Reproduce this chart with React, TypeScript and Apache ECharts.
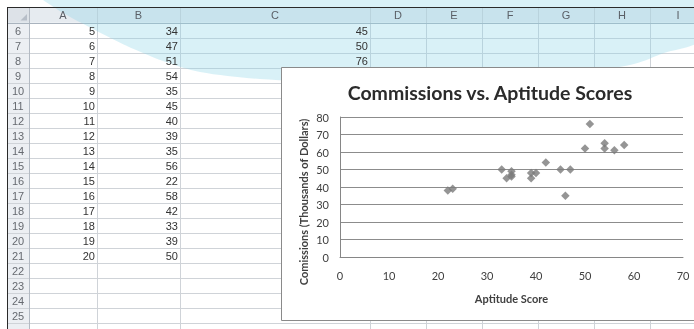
import { useEffect, useRef } from "react";
import * as echarts from "echarts";

// ---- data ----
const columnLetters = ["A", "B", "C", "D", "E", "F", "G", "H", "I"];
const firstRow = 6;
const lastRow = 26;
const indexValues = [1, 2, 3, 4, 5, 6, 7, 8, 9, 10, 11, 12, 13, 14, 15, 16, 17, 18, 19, 20];
const aptitudeScores = [23, 46, 54, 35, 34, 47, 51, 54, 35, 45, 40, 39, 35, 56, 22, 58, 42, 33, 39, 50];
const commissions = [39, 35, 65, 47, 45, 50, 76, 62, 46, 50, 48, 45, 49, 61, 38, 64, 54, 50, 48, 62];
const chartTitle = "Commissions vs. Aptitude Scores";
const xAxisTitle = "Aptitude Score";
const yAxisTitle = "Comissions (Thousands of Dollars)";

// ---- layout ----
const W = 694;
const H = 329;
const colEdges = [7, 29, 97, 180, 370, 426, 482, 538, 594, 650, 706];
const headerTop = 7;
const headerBottom = 22.7;
const rowH = 15;
const chartBox = { x: 281, y: 67, w: 430, h: 253 };

function rowTop(r: number) {
  return headerBottom + (r - firstRow) * rowH;
}

function buildSheet(): any[] {
  const els: any[] = [];
  // backgrounds
  els.push({ type: "rect", z: 0, shape: { x: 0, y: 0, width: W, height: H }, style: { fill: "#ffffff" } });
  els.push({ type: "rect", z: 0, shape: { x: headerTop, y: headerTop, width: W, height: headerBottom - headerTop }, style: { fill: "#e6ebf0" } });
  els.push({ type: "rect", z: 0, shape: { x: colEdges[0], y: headerBottom, width: colEdges[1] - colEdges[0], height: H }, style: { fill: "#eceff3" } });
  els.push({ type: "rect", z: 0, shape: { x: colEdges[0], y: headerTop, width: colEdges[1] - colEdges[0], height: headerBottom - headerTop }, style: { fill: "#dde2e8" } });
  els.push({ type: "polygon", z: 1, shape: { points: [[20.5, 20.5], [27, 20.5], [27, 14]] }, style: { fill: "#b7bec8" } });
  // grid lines
  for (let r = firstRow; r <= lastRow + 1; r++) {
    const y = Math.round(rowTop(r)) + 0.5;
    els.push({ type: "line", z: 1, shape: { x1: colEdges[0], y1: y, x2: W, y2: y }, style: { stroke: "#cfd3d8", lineWidth: 1 } });
  }
  for (let i = 1; i < colEdges.length; i++) {
    const x = colEdges[i] + 0.5;
    els.push({ type: "line", z: 1, shape: { x1: x, y1: headerTop, x2: x, y2: H }, style: { stroke: i === 1 ? "#b3bac3" : "#cfd3d8", lineWidth: 1 } });
  }
  els.push({ type: "line", z: 1, shape: { x1: colEdges[0], y1: Math.round(headerBottom) + 0.5, x2: W, y2: Math.round(headerBottom) + 0.5 }, style: { stroke: "#a9b3be", lineWidth: 1 } });
  // light blue overlay
  els.push({
    type: "polygon",
    z: 2,
    shape: {
      smooth: 0.3,
      points: [[36, -4], [43, 0], [63, 13], [95, 30], [127, 46], [163, 61], [200, 72], [260, 79], [340, 82], [430, 81], [520, 77], [590, 71], [634, 64], [664, 53], [700, 40], [700, -4]],
    },
    style: { fill: "rgba(140,212,232,0.33)" },
  });
  // frame lines
  els.push({ type: "line", z: 3, shape: { x1: colEdges[0], y1: headerTop + 0.5, x2: W, y2: headerTop + 0.5 }, style: { stroke: "#2a2a2a", lineWidth: 1 } });
  els.push({ type: "line", z: 3, shape: { x1: colEdges[0] + 0.5, y1: headerTop, x2: colEdges[0] + 0.5, y2: H }, style: { stroke: "#2a2a2a", lineWidth: 1 } });
  // column letters
  columnLetters.forEach((c, i) => {
    els.push({
      type: "text", z: 3,
      style: { text: c, x: (colEdges[i + 1] + colEdges[i + 2]) / 2, y: (headerTop + headerBottom) / 2 + 0.5, align: "center", verticalAlign: "middle", fontSize: 11, fontFamily: "Liberation Sans", fill: "#5a5f66" },
    });
  });
  // row numbers (last one is cut by the window edge, as in the reference)
  for (let r = firstRow; r <= lastRow; r++) {
    const cy = rowTop(r) + rowH / 2 + 0.5;
    if (cy + 4 > H) continue;
    els.push({
      type: "text", z: 3,
      style: { text: String(r), x: 18, y: cy, align: "center", verticalAlign: "middle", fontSize: 11, fontFamily: "Liberation Sans", fill: "#666a70" },
    });
  }
  // cell values
  indexValues.forEach((idx, i) => {
    const r = idx + 1;
    if (r < firstRow) return;
    const cy = rowTop(r) + rowH / 2 + 0.5;
    const base = { y: cy, verticalAlign: "middle", fontSize: 11, fontFamily: "Liberation Sans", fill: "#333333", align: "right" };
    els.push({ type: "text", z: 3, style: { ...base, text: String(idx), x: colEdges[2] - 2 } });
    els.push({ type: "text", z: 3, style: { ...base, text: String(aptitudeScores[i]), x: colEdges[3] - 2 } });
    if (rowTop(r) + rowH < chartBox.y + 2) {
      els.push({ type: "text", z: 3, style: { ...base, text: String(commissions[i]), x: colEdges[4] - 2 } });
    }
  });
  // chart box
  els.push({
    type: "rect", z: 4,
    shape: { x: chartBox.x + 0.5, y: chartBox.y + 0.5, width: chartBox.w, height: chartBox.h },
    style: { fill: "#ffffff", stroke: "#8a8a8a", lineWidth: 1 },
  });
  els.push({
    type: "text", z: 5,
    style: { text: chartTitle, x: 490, y: 92, align: "center", verticalAlign: "middle", fontSize: 19.5, fontWeight: "bold", fontFamily: "Lato", fill: "#2b2b2b" },
  });
  els.push({
    type: "text", z: 5, x: 303, y: 202, rotation: Math.PI / 2,
    style: { text: yAxisTitle, x: 0, y: 0, align: "center", verticalAlign: "middle", fontSize: 11, fontWeight: "bold", fontFamily: "Lato", fill: "#404040" },
  });
  return els;
}

export default function App() {
  const ref = useRef<HTMLDivElement>(null);
  useEffect(() => {
    document.body.style.margin = "0";
    const chart = echarts.init(ref.current!, null, { renderer: "svg" });
    const points = aptitudeScores.map((s, i) => [s, commissions[i]]);
    chart.setOption({
      animation: false,
      graphic: { elements: buildSheet() },
      grid: { left: 340, top: 117, width: 343, height: 140, containLabel: false },
      xAxis: {
        type: "value", min: 0, max: 70, interval: 10, z: 10,
        name: xAxisTitle, nameLocation: "middle", nameGap: 36,
        nameTextStyle: { fontFamily: "Lato", fontSize: 11, fontWeight: "bold", color: "#404040" },
        axisLine: { show: true, lineStyle: { color: "#868686", width: 1 } },
        axisTick: { show: false },
        splitLine: { show: false },
        axisLabel: { margin: 13, fontFamily: "Lato", fontSize: 11, color: "#404040" },
      },
      yAxis: {
        type: "value", min: 0, max: 80, interval: 10, z: 10,
        axisLine: { show: true, lineStyle: { color: "#868686", width: 1 } },
        axisTick: { show: false },
        splitLine: { show: true, lineStyle: { color: "#8c8c8c", width: 1 } },
        axisLabel: { margin: 11, fontFamily: "Lato", fontSize: 11, color: "#404040" },
      },
      series: [
        {
          type: "scatter", z: 20,
          symbol: "diamond", symbolSize: 8.5,
          itemStyle: { color: "#7b7b7b" },
          data: points,
        },
      ],
    });
    return () => chart.dispose();
  }, []);
  return <div ref={ref} style={{ position: "fixed", left: 0, top: 0, width: W, height: H }} />;
}
